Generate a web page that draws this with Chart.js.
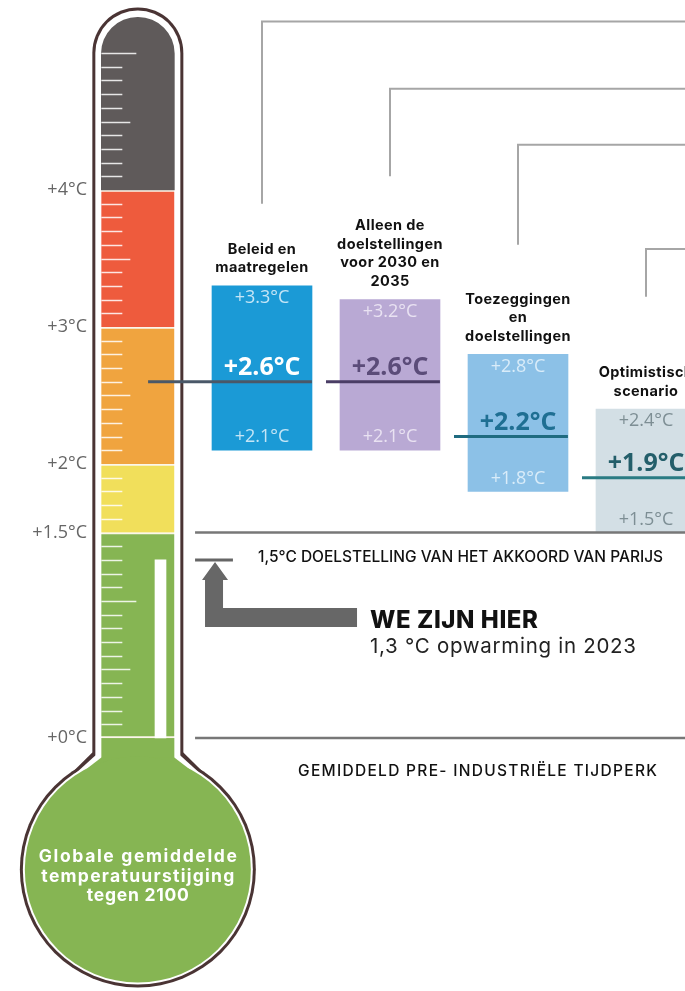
<!DOCTYPE html>
<html lang="nl">
<head>
<meta charset="UTF-8">
<title>Globale temperatuurstijging tegen 2100</title>
<script src="https://cdn.jsdelivr.net/npm/chart.js"></script>
<style>
  html, body { margin: 0; padding: 0; background: #fff; }
  #chart { display: block; }
</style>
</head>
<body>
<canvas id="chart" width="685" height="991"></canvas>
<script>
// --- data ---------------------------------------------------------------
const SCENARIO_LINES = [
  ['Beleid en', 'maatregelen'],
  ['Alleen de', 'doelstellingen', 'voor 2030 en', '2035'],
  ['Toezeggingen', 'en', 'doelstellingen'],
  ['Optimistisch', 'scenario']
];
const SCENARIO_POS = [1, 2, 3, 4];
const LOW = [2.1, 2.1, 1.8, 1.5];
const HIGH = [3.3, 3.2, 2.8, 2.4];
const CENTRAL = [2.6, 2.6, 2.2, 1.9];

// thermometer colour bands (°C)
const BAND_FROM = [0, 1.5, 2, 3, 4];
const BAND_TO = [1.5, 2, 3, 4, 5.26];

const Y_TICKS = [0, 1.5, 2, 3, 4];
const Y_TICK_LABELS = ['+0°C', '+1.5°C', '+2°C', '+3°C', '+4°C'];

const CURRENT = 1.3;      // opwarming in 2023
const PARIS = 1.5;
const PREINDUSTRIAL = 0;

// grey connector lines above the labels (°C)
const CONNECT_TOP = [5.23, 4.74, 4.33, 3.57];
const CONNECT_BOTTOM = [3.9, 4.1, 3.6, 3.22];

// --- styles -------------------------------------------------------------
const BOX_COLORS = ['#1b9ad6', '#b9a9d4', '#8cc1e7', '#d3dfe5'];
const EDGE_TEXT = ['#c4e5f6', '#e9e2f2', '#d9ecf9', '#7d8e94'];
const MID_TEXT = ['#ffffff', '#5b4c79', '#1f6f93', '#235e6a'];
const MID_LINE = ['#4a5868', '#4a3d65', '#1f6b80', '#2a7b83'];
const BAND_COLORS = ['#86b553', '#f1df5b', '#f0a43f', '#ee5b3d', '#5f5a5a'];

const THERMO_X = 0.03;
const BULB_CENTER = -0.96;
const X_MIN = -0.34375, X_MAX = 4.3047;

const fmt = v => '+' + v.toFixed(1) + '°C';

function fitText(ctx, text, x, y, font, color, align, width) {
  ctx.font = font;
  ctx.letterSpacing = '0px';
  let ls = 0;
  if (width) ls = (width - ctx.measureText(text).width) / (text.length - 1);
  ctx.letterSpacing = ls.toFixed(2) + 'px';
  ctx.fillStyle = color;
  ctx.textAlign = align;
  ctx.fillText(text, align === 'center' ? x + ls / 2 : x, y);
  ctx.letterSpacing = '0px';
}

const thermometer = {
  id: 'thermometer',
  beforeDatasetsDraw(chart) {
    const { ctx, scales: { x, y } } = chart;
    const cx = x.getPixelForValue(THERMO_X);
    const top = y.getPixelForValue(BAND_TO[BAND_TO.length - 1]);
    const zero = y.getPixelForValue(0);
    const by = y.getPixelForValue(BULB_CENTER);

    const shape = (tubeInset, bulbInset, tubeTop, color, round) => {
      const hw = 45.5 - tubeInset;
      ctx.fillStyle = color;
      ctx.beginPath();
      ctx.roundRect(cx - hw, tubeTop, hw * 2, by - tubeTop, round ? [hw, hw, 0, 0] : 0);
      ctx.fill();
      ctx.beginPath();
      ctx.moveTo(cx - hw, by - 117 + bulbInset);
      ctx.lineTo(cx + hw, by - 117 + bulbInset);
      ctx.lineTo(cx + 83 - bulbInset, by - 80);
      ctx.lineTo(cx - 83 + bulbInset, by - 80);
      ctx.closePath();
      ctx.fill();
      ctx.beginPath();
      ctx.arc(cx, by, 118 - bulbInset, 0, Math.PI * 2);
      ctx.fill();
    };
    ctx.save();
    shape(0, 0, top - 10, '#4a3434', true);
    shape(3, 3, top - 7, '#ffffff', true);
    shape(9, 5, zero, BAND_COLORS[0], false);
    ctx.restore();
  },
  afterDatasetsDraw(chart) {
    const { ctx, scales: { x, y } } = chart;
    const cx = x.getPixelForValue(THERMO_X);
    ctx.save();

    // graduation marks on the tube
    ctx.strokeStyle = 'rgba(255,255,255,0.85)';
    ctx.lineWidth = 1.5;
    for (let t = 1; t <= 50; t++) {
      if ([15, 20, 30, 40].includes(t)) continue;
      const py = Math.round(y.getPixelForValue(t / 10)) + 0.5;
      const len = t % 10 === 0 ? 35 : t % 5 === 0 ? 29 : 21;
      ctx.beginPath();
      ctx.moveTo(cx - 36.5, py);
      ctx.lineTo(cx - 36.5 + len, py);
      ctx.stroke();
    }

    // scenario labels and values
    SCENARIO_POS.forEach((p, i) => {
      const px = x.getPixelForValue(p);
      const yTop = y.getPixelForValue(HIGH[i]);
      const yLow = y.getPixelForValue(LOW[i]);
      const yMid = y.getPixelForValue(CENTRAL[i]);
      const lines = SCENARIO_LINES[i];
      ctx.textBaseline = 'middle';
      lines.forEach((ln, j) => {
        const ly = yTop - 18 - (lines.length - 1 - j) * 18.5;
        ctx.letterSpacing = '0.4px';
        ctx.font = '700 14.5px Inter';
        ctx.fillStyle = '#111';
        ctx.textAlign = 'center';
        ctx.fillText(ln, px, ly);
      });
      ctx.letterSpacing = '0px';
      fitText(ctx, fmt(HIGH[i]), px, yTop + 12, '400 18px "Open Sans"', EDGE_TEXT[i], 'center', 0);
      fitText(ctx, fmt(LOW[i]), px, yLow - 13, '400 18px "Open Sans"', EDGE_TEXT[i], 'center', 0);
      ctx.textBaseline = 'alphabetic';
      fitText(ctx, fmt(CENTRAL[i]), px, yMid - 7, '700 25px "Open Sans"', MID_TEXT[i], 'center', 0);
    });

    // annotations
    const yParis = y.getPixelForValue(PARIS);
    const yZero = y.getPixelForValue(PREINDUSTRIAL);
    const yNow = y.getPixelForValue(CURRENT);
    ctx.textBaseline = 'middle';
    fitText(ctx, '1,5°C DOELSTELLING VAN HET AKKOORD VAN PARIJS', 258, yParis + 25,
      '500 15.5px Inter', '#111', 'left', 405);
    fitText(ctx, 'GEMIDDELD PRE- INDUSTRIËLE TIJDPERK', 298, yZero + 33,
      '500 15.5px Inter', '#111', 'left', 359);

    ctx.textBaseline = 'alphabetic';
    fitText(ctx, 'WE ZIJN HIER', 370, yNow + 68, '800 24px Inter', '#111', 'left', 168);
    fitText(ctx, '1,3 °C opwarming in 2023', 370, yNow + 93, '400 20.5px Inter', '#222', 'left', 266);

    // arrow pointing at the current warming level
    const ax = x.getPixelForValue(0.633);
    ctx.fillStyle = '#676767';
    ctx.beginPath();
    ctx.moveTo(ax, yNow + 2);
    ctx.lineTo(ax + 13, yNow + 20);
    ctx.lineTo(ax + 8, yNow + 20);
    ctx.lineTo(ax + 8, yNow + 48);
    ctx.lineTo(ax + 142, yNow + 48);
    ctx.lineTo(ax + 142, yNow + 67);
    ctx.lineTo(ax - 10, yNow + 67);
    ctx.lineTo(ax - 10, yNow + 20);
    ctx.lineTo(ax - 13, yNow + 20);
    ctx.closePath();
    ctx.fill();

    // bulb caption
    const by = y.getPixelForValue(BULB_CENTER);
    ctx.textBaseline = 'middle';
    fitText(ctx, 'Globale gemiddelde', cx, by - 13, '700 17.5px Inter', '#fff', 'center', 198);
    fitText(ctx, 'temperatuurstijging', cx, by + 7, '700 17.5px Inter', '#fff', 'center', 193);
    fitText(ctx, 'tegen 2100', cx, by + 26, '700 17.5px Inter', '#fff', 'center', 102);
    ctx.restore();
  }
};

const seg = (pts, color, width) => ({
  type: 'line',
  data: pts,
  borderColor: color,
  borderWidth: width,
  pointRadius: 0,
  fill: false,
  tension: 0,
  borderCapStyle: 'butt',
  borderJoinStyle: 'miter'
});

const centralLines = SCENARIO_POS.map((p, i) => seg([
  { x: i === 0 ? THERMO_X + 0.08 : p - 0.5, y: CENTRAL[i] },
  { x: p + 0.39, y: CENTRAL[i] }
], MID_LINE[i], 3));

const connectors = SCENARIO_POS.map((p, i) => seg([
  { x: p, y: CONNECT_BOTTOM[i] },
  { x: p, y: CONNECT_TOP[i] },
  { x: X_MAX + 0.2, y: CONNECT_TOP[i] }
], '#a6a6a6', 2));

const refLines = [
  seg([{ x: 0.477, y: CURRENT }, { x: 0.773, y: CURRENT }], '#666', 3),
  seg([{ x: 0.477, y: PARIS }, { x: X_MAX + 0.2, y: PARIS }], '#777', 2.5),
  seg([{ x: 0.477, y: PREINDUSTRIAL }, { x: X_MAX + 0.2, y: PREINDUSTRIAL }], '#777', 2.5)
];

new Chart(document.getElementById('chart'), {
  type: 'bar',
  data: {
    datasets: [
      ...centralLines,
      ...refLines,
      ...connectors,
      {
        type: 'bar',
        data: SCENARIO_POS.map((p, i) => ({ x: p, y: [LOW[i], HIGH[i]] })),
        backgroundColor: BOX_COLORS,
        barThickness: 100,
        grouped: false
      },
      {
        type: 'bar',
        data: [{ x: THERMO_X + 0.177, y: [PREINDUSTRIAL, CURRENT] }],
        backgroundColor: '#ffffff',
        barThickness: 11,
        grouped: false
      },
      {
        type: 'bar',
        data: BAND_FROM.map((f, i) => ({ x: THERMO_X, y: [f, BAND_TO[i]] })),
        backgroundColor: BAND_COLORS,
        borderColor: '#fbf6ea',
        borderSkipped: false,
        borderWidth: BAND_FROM.map((f, i) => i === 0 ? { top: 2, bottom: 2, left: 0, right: 0 }
          : i === BAND_FROM.length - 1 ? 0 : { top: 2, bottom: 0, left: 0, right: 0 }),
        borderRadius: BAND_FROM.map((f, i) => i === BAND_FROM.length - 1
          ? { topLeft: 36.5, topRight: 36.5, bottomLeft: 0, bottomRight: 0 } : 0),
        barThickness: 73,
        grouped: false
      }
    ]
  },
  options: {
    responsive: false,
    animation: false,
    events: [],
    layout: { padding: 0 },
    plugins: { legend: { display: false }, tooltip: { enabled: false } },
    scales: {
      x: { type: 'linear', min: X_MIN, max: X_MAX, offset: false, display: false },
      y: {
        type: 'linear',
        position: 'left',
        min: -1.847,
        max: 5.387,
        bounds: 'data',
        afterBuildTicks: s => { s.ticks = Y_TICKS.map(v => ({ value: v })); },
        afterFit: s => { s.width = 90; s.paddingTop = 0; s.paddingBottom = 0; },
        grid: { display: false, drawTicks: false },
        border: { display: false },
        ticks: {
          padding: 3,
          color: '#666',
          font: { family: 'Open Sans', size: 18 },
          callback: (v, i) => Y_TICK_LABELS[i]
        }
      }
    }
  },
  plugins: [thermometer]
});
</script>
</body>
</html>
